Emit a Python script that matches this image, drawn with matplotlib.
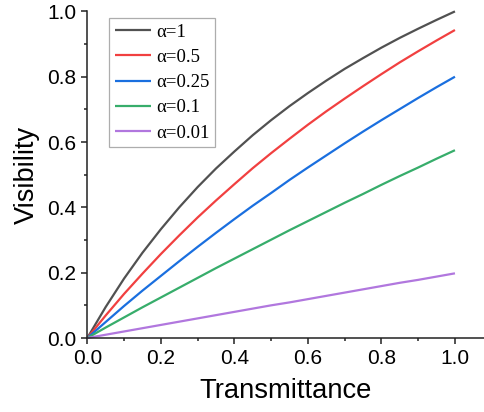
import matplotlib
matplotlib.use("Agg")
import matplotlib.pyplot as plt
from matplotlib.ticker import MultipleLocator

# Transmittance values (x)
transmittance = [0.00, 0.05, 0.10, 0.15, 0.20, 0.25, 0.30, 0.35, 0.40, 0.45, 0.50,
                 0.55, 0.60, 0.65, 0.70, 0.75, 0.80, 0.85, 0.90, 0.95, 1.00]

# Visibility values
vis_a1 = [0.000, 0.095, 0.182, 0.261, 0.333, 0.400, 0.462, 0.519, 0.571, 0.621, 0.667,
          0.710, 0.750, 0.788, 0.824, 0.857, 0.889, 0.919, 0.947, 0.974, 1.000]
vis_a05 = [0.000, 0.069, 0.135, 0.197, 0.257, 0.314, 0.369, 0.421, 0.471, 0.520, 0.566,
           0.610, 0.653, 0.694, 0.733, 0.771, 0.808, 0.844, 0.878, 0.911, 0.943]
vis_a025 = [0.000, 0.049, 0.098, 0.145, 0.190, 0.235, 0.279, 0.322, 0.364, 0.405, 0.444,
            0.484, 0.522, 0.559, 0.596, 0.632, 0.667, 0.701, 0.735, 0.768, 0.800]
vis_a01 = [0.000, 0.032, 0.063, 0.094, 0.124, 0.154, 0.184, 0.214, 0.243, 0.272, 0.301,
           0.330, 0.358, 0.386, 0.414, 0.441, 0.469, 0.496, 0.522, 0.549, 0.575]
vis_a001 = [0.000, 0.010, 0.020, 0.030, 0.040, 0.050, 0.060, 0.070, 0.080, 0.090, 0.100,
            0.109, 0.119, 0.129, 0.139, 0.149, 0.159, 0.169, 0.178, 0.188, 0.198]

labels = ["α=1", "α=0.5", "α=0.25", "α=0.1", "α=0.01"]
colors = ["#515151", "#F14040", "#1A6FDF", "#37AD6B", "#B177DE"]
series = [vis_a1, vis_a05, vis_a025, vis_a01, vis_a001]

fig = plt.figure(figsize=(4.84, 4.12), dpi=100)
ax = fig.add_axes([87.3 / 484, 74 / 412, (484 - 87.3) / 484, (338.3 - 11.7) / 412])

for ys, c, lab in zip(series, colors, labels):
    ax.plot(transmittance, ys, color=c, lw=1.6, label=lab, clip_on=False,
            solid_capstyle="butt")

ax.set_xlim(0, 1.079)
ax.set_ylim(0, 1.0)
ax.xaxis.set_major_locator(MultipleLocator(0.2))
ax.xaxis.set_minor_locator(MultipleLocator(0.1))
ax.yaxis.set_major_locator(MultipleLocator(0.2))
ax.yaxis.set_minor_locator(MultipleLocator(0.1))
ax.set_xticks([0.0, 0.2, 0.4, 0.6, 0.8, 1.0])

for s in ["top", "right"]:
    ax.spines[s].set_visible(False)
for s in ["left", "bottom"]:
    ax.spines[s].set_linewidth(1.1)
    ax.spines[s].set_color("#222222")

ax.tick_params(which="major", direction="out", length=4.5, width=1.1,
               labelsize=15, pad=3.5, colors="#222222", labelcolor="black")
ax.tick_params(which="minor", direction="out", length=2.5, width=1.1, colors="#222222")
for t in ax.get_xticklabels() + ax.get_yticklabels():
    t.set_fontfamily("Liberation Sans")

ax.set_xlabel("Transmittance", fontsize=19.7, fontfamily="Liberation Sans", labelpad=7)
ax.set_ylabel("Visibility", fontsize=19.5, fontfamily="Liberation Sans", labelpad=5)

leg = ax.legend(loc="upper left", bbox_to_anchor=(109 / 484, 1 - 18 / 412),
                bbox_transform=fig.transFigure, borderaxespad=0,
                prop={"family": "Liberation Serif", "size": 13.5},
                frameon=True, fancybox=False, handlelength=1.95, handletextpad=0.27,
                labelspacing=0.43, borderpad=0.3)
leg.get_frame().set_edgecolor("#999999")
leg.get_frame().set_linewidth(0.9)

fig.savefig("out.png", dpi=100)
